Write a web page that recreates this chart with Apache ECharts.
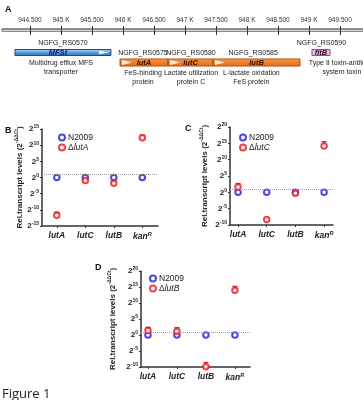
<!DOCTYPE html>
<html><head><meta charset="utf-8">
<script src="https://cdn.jsdelivr.net/npm/echarts@6/dist/echarts.min.js"></script>
<style>html,body{margin:0;padding:0;background:#fff}#c{width:363px;height:400px}</style>
</head><body><div id="c"></div>
<script>
// ---------- Panel A: genomic region ----------
const genomeTicks = [944500,945000,945500,946000,946500,947000,947500,948000,948500,949000,949500];
const genomeTickLabels = ['944.500','945 K','945.500','946 K','946.500','947 K','947.500','948 K','948.500','949 K','949.500'];
const geneStart = [944258, 945952, 946726, 947452, 949048];
const geneEnd = [945806, 946726, 947452, 948855, 949339];
const geneLabelAt = [945032, 946323, 947097, 948100, 949200];
const geneProductAt = [945000, 946323, 947097, 948070, 949530];
const geneTrack = [1, 2, 2, 2, 1];
const geneIds = ['NGFG_RS0570','NGFG_RS0575','NGFG_RS0580','NGFG_RS0585','NGFG_RS0590'];
const geneSymbols = ['MFSt','lutA','lutC','lutB','fitB'];
const geneProducts = ['Multidrug efflux MFS\ntransporter','FeS-binding\nprotein','Lactate utilization\nprotein C','L-lactate oxidation\nFeS protein','Type II toxin-antitoxin\nsystem toxin'];
const geneKinds = ['mfs','lut','lut','lut','tox'];

// ---------- Panels B-D: qRT-PCR ----------
const targets = ['lutA','lutC','lutB','kanR'];
const wildType = 'N2009';
const wtLevels = [0, 0, 0, 0];
const foldThreshold = 1;
const mutantB = 'ΔlutA';
const levelsB = [-11.7, -0.9, -1.8, 12.3];
const errB = [1.0, 0.3, 0.3, 0.8];
const mutantC = 'ΔlutC';
const levelsC = [1.6, -8.3, -0.3, 14.2];
const errC = [1.1, 0.3, 0.7, 1.3];
const mutantD = 'ΔlutB';
const levelsD = [1.4, 1.2, -9.9, 14.0];
const errD = [1.0, 1.1, 1.3, 1.2];
const yRangeB = [-15, 15];
const yRangeCD = [-10, 20];

const FONT = 'Liberation Sans, Arial, sans-serif';
const BLUE = '#1a1ae0';
const RED = '#e8141c';
const AX = '#333';

const geneStyle = {
  mfs: {h: 6, fill: new echarts.graphic.LinearGradient(0,0,0,1,[{offset:0,color:'#bfe0fa'},{offset:0.5,color:'#5aa0e0'},{offset:1,color:'#2c6cb8'}]), stroke:'#1b4a8a', tri:'right', text:'#0a1a70'},
  lut: {h: 7, fill: new echarts.graphic.LinearGradient(0,0,0,1,[{offset:0,color:'#f8b070'},{offset:0.35,color:'#f4842a'},{offset:1,color:'#e0701a'}]), stroke:'#b24e10', tri:'left', text:'#2a1000'},
  tox: {h: 6, fill: '#e9c0e4', stroke:'#a0408e', tri:null, text:'#300030'}
};

function renderGene(params, api){
  const i = params.dataIndex;
  const st = geneStyle[geneKinds[i]];
  const s = api.coord([api.value(0), api.value(2)]);
  const e = api.coord([api.value(1), api.value(2)]);
  const lab = api.coord([api.value(3), api.value(2)]);
  const prod = api.coord([api.value(4), api.value(2)]);
  const h = st.h, y0 = s[1] - h/2;
  const ch = [{type:'rect', shape:{x:s[0], y:y0, width:e[0]-s[0], height:h}, style:{fill:st.fill, stroke:st.stroke, lineWidth:1}}];
  if (st.tri === 'left') {
    ch.push({type:'polygon', shape:{points:[[s[0]+2,y0+1],[s[0]+12,s[1]],[s[0]+2,y0+h-1]]}, style:{fill:'rgba(255,255,255,0.85)'}});
  } else if (st.tri === 'right') {
    ch.push({type:'polygon', shape:{points:[[e[0]-12,y0+1],[e[0]-2,s[1]],[e[0]-12,y0+h-1]]}, style:{fill:'rgba(255,255,255,0.85)'}});
  }
  ch.push({type:'text', style:{text:geneSymbols[i], x:(s[0]+e[0])/2 + (geneKinds[i]==='mfs' ? -5 : 0), y:s[1], align:'center', verticalAlign:'middle', fontSize:7.5, fontWeight:'bold', fontStyle:'italic', fontFamily:FONT, fill:st.text}});
  ch.push({type:'text', style:{text:geneIds[i], x:lab[0], y:y0-6, align:'center', verticalAlign:'middle', fontSize:7, fontFamily:FONT, fill:'#222'}});
  ch.push({type:'text', style:{text:geneProducts[i], x:prod[0], y:y0+h+3, align:'center', verticalAlign:'top', fontSize:7, lineHeight:9, fontFamily:FONT, fill:'#222'}});
  return {type:'group', children:ch};
}

function renderErr(params, api){
  const x = api.value(0), v = api.value(1), er = api.value(2);
  const c = api.coord([x, v]);
  const t = api.coord([x, v + er]);
  return {type:'group', children:[
    {type:'line', shape:{x1:c[0], y1:c[1], x2:t[0], y2:t[1]}, style:{stroke:RED, lineWidth:1.2}},
    {type:'line', shape:{x1:t[0]-2.5, y1:t[1], x2:t[0]+2.5, y2:t[1]}, style:{stroke:RED, lineWidth:1.2}}
  ]};
}

const richY = {
  b:{fontSize:8, fontWeight:'bold', color:'#222', fontFamily:FONT},
  s:{fontSize:5, fontWeight:'bold', color:'#222', fontFamily:FONT, verticalAlign:'top', padding:[0,0,4,0]}
};
const richX = {
  i:{fontSize:8.5, fontWeight:'bold', fontStyle:'italic', color:'#222', fontFamily:FONT},
  s:{fontSize:5.5, fontWeight:'bold', fontStyle:'italic', color:'#222', fontFamily:FONT, padding:[0,0,5,0]}
};
const richName = {
  b:{fontSize:8, fontWeight:'bold', color:'#222', fontFamily:FONT},
  s:{fontSize:5, fontWeight:'bold', color:'#222', fontFamily:FONT, padding:[0,0,5,0]}
};
function xLab(v){
  const t = targets[Math.round(v)];
  if (t === 'kanR') return '{i|kan}{s|R}';
  return '{i|' + t + '}';
}

function panelAxes(gi, xr, yr, nameGap){
  const x = {gridIndex:gi, type:'value', min:xr[0], max:xr[1],
    axisLine:{show:true, onZero:false, lineStyle:{color:AX, width:1.5}},
    axisTick:{show:true, customValues:[0,1,2,3], length:2, lineStyle:{color:AX}},
    axisLabel:{customValues:[0,1,2,3], formatter:xLab, rich:richX, margin:5},
    splitLine:{show:false}};
  const y = {gridIndex:gi, type:'value', min:yr[0], max:yr[1], interval:5,
    name:'{b|Rel.transcript levels (2}{s|-ΔΔCt}{b|)}', nameLocation:'middle', nameRotate:90, nameGap:nameGap,
    nameTextStyle:{rich:richName},
    axisLine:{show:true, onZero:false, lineStyle:{color:AX, width:1.5}},
    axisTick:{show:true, length:2, lineStyle:{color:AX}},
    axisLabel:{formatter:v => '{b|2}{s|' + v + '}', rich:richY, margin:3},
    splitLine:{show:false}};
  return [x, y];
}

const axB = panelAxes(1, [-0.52, 3.55], yRangeB, 15.5);
const axC = panelAxes(2, [-0.28, 3.31], yRangeCD, 20.5);
const axD = panelAxes(3, [-0.24, 3.52], yRangeCD, 23.5);

function panelSeries(gi, mutName, levels, errs){
  const wtData = wtLevels.map((v,i) => [i, v]);
  const mData = levels.map((v,i) => [i, v]);
  const eData = levels.map((v,i) => [i, v, errs[i]]);
  return [
    {type:'scatter', name:wildType, xAxisIndex:gi+1, yAxisIndex:gi, data:wtData, symbol:'emptyCircle', symbolSize:5.5,
      itemStyle:{color:BLUE, borderWidth:1.5}, z:3,
      markLine:{silent:true, symbol:'none', label:{show:false}, lineStyle:{type:'dotted', color:'#999', width:1}, data:[{yAxis:foldThreshold}]}},
    {type:'scatter', name:mutName, xAxisIndex:gi+1, yAxisIndex:gi, data:mData, symbol:'emptyCircle', symbolSize:5.5,
      itemStyle:{color:RED, borderWidth:1.5}, z:4},
    {type:'custom', name:mutName + ' error', xAxisIndex:gi+1, yAxisIndex:gi, data:eData, renderItem:renderErr, z:3}
  ];
}

function legendFmt(n){ return n.charAt(0) === 'Δ' ? '{t|Δ}{i|' + n.slice(1) + '}' : '{t|' + n + '}'; }
function legendAt(left, top, names){
  return {left:left, top:top, orient:'vertical', data:names, itemWidth:6, itemHeight:6, itemGap:1, selectedMode:false,
    formatter:legendFmt,
    textStyle:{padding:[0,0,0,-2], rich:{t:{fontSize:8.5, color:'#222', fontFamily:FONT}, i:{fontSize:8.5, fontStyle:'italic', color:'#222', fontFamily:FONT}}}};
}

const chart = echarts.init(document.getElementById('c'), null, {renderer:'canvas'});
chart.setOption({
  animation:false,
  backgroundColor:'#fff',
  title:[
    {text:'A', left:0, top:0, textStyle:{fontSize:9, fontWeight:'bold', fontFamily:FONT, color:'#111'}},
    {text:'B', left:0, top:121, textStyle:{fontSize:9, fontWeight:'bold', fontFamily:FONT, color:'#111'}},
    {text:'C', left:180, top:119, textStyle:{fontSize:9, fontWeight:'bold', fontFamily:FONT, color:'#111'}},
    {text:'D', left:90, top:258, textStyle:{fontSize:9, fontWeight:'bold', fontFamily:FONT, color:'#111'}},
    {text:'Figure 1', left:-3, top:383, textStyle:{fontSize:13, fontWeight:'normal', fontFamily:'Open Sans, sans-serif', color:'#222'}}
  ],
  legend:[
    legendAt(53, 128, [wildType, mutantB]),
    legendAt(234, 128, [wildType, mutantC]),
    legendAt(144, 269, [wildType, mutantD])
  ],
  grid:[
    {left:3, right:0, top:30, height:50},
    {left:42, top:129, width:116, height:97},
    {left:230, top:127, width:103, height:98},
    {left:141, top:271, width:109, height:96}
  ],
  xAxis:[
    {gridIndex:0, type:'value', position:'top', min:944065, max:949871,
      axisLine:{show:true, onZero:false, lineStyle:{color:'#8c8c8c', width:4}},
      axisTick:{show:true, inside:true, length:5, customValues:genomeTicks, lineStyle:{color:'#333', width:1}},
      axisLabel:{customValues:genomeTicks, formatter:v => genomeTickLabels[genomeTicks.indexOf(v)], fontSize:6.5, color:'#333', fontFamily:FONT, margin:6},
      splitLine:{show:false}},
    axB[0], axC[0], axD[0],
    {gridIndex:0, type:'value', position:'top', min:944065, max:949871,
      axisLine:{show:true, onZero:false, lineStyle:{color:'#d4d4d4', width:1.2}},
      axisTick:{show:true, inside:false, length:4, customValues:genomeTicks, lineStyle:{color:'#333', width:1}},
      axisLabel:{show:false}, splitLine:{show:false}}
  ],
  yAxis:[
    axB[1], axC[1], axD[1],
    {gridIndex:0, type:'value', min:-1.25, max:3.75, inverse:true, show:false}
  ],
  series:[
    {type:'custom', xAxisIndex:0, yAxisIndex:3, renderItem:renderGene, clip:false,
      data:geneStart.map((s,i) => [s, geneEnd[i], geneTrack[i], geneLabelAt[i], geneProductAt[i]])},
    ...panelSeries(0, mutantB, levelsB, errB),
    ...panelSeries(1, mutantC, levelsC, errC),
    ...panelSeries(2, mutantD, levelsD, errD)
  ]
});
</script>
</body></html>
